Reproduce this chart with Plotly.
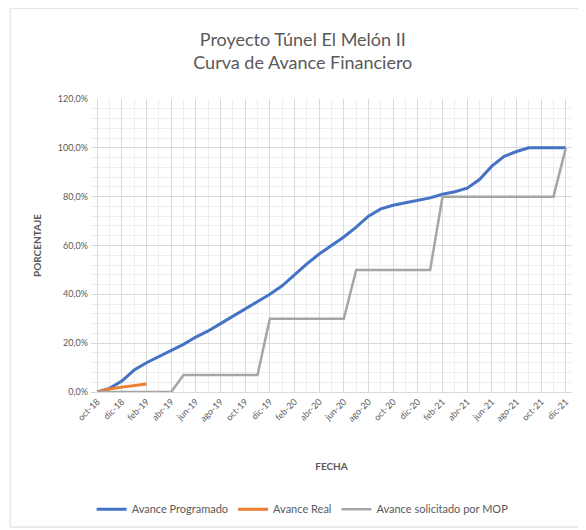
import plotly.graph_objects as go

months = ["oct-18","nov-18","dic-18","ene-19","feb-19","mar-19","abr-19","may-19","jun-19","jul-19",
          "ago-19","sept-19","oct-19","nov-19","dic-19","ene-20","feb-20","mar-20","abr-20","may-20",
          "jun-20","jul-20","ago-20","sept-20","oct-20","nov-20","dic-20","ene-21","feb-21","mar-21",
          "abr-21","may-21","jun-21","jul-21","ago-21","sept-21","oct-21","nov-21","dic-21"]

programado = [0.0, 1.5, 4.5, 9.0, 12.0, 14.5, 17.0, 19.5, 22.5, 25.0,
              28.0, 31.0, 34.0, 37.0, 40.0, 43.5, 48.0, 52.5, 56.5, 60.0,
              63.5, 67.5, 72.0, 75.0, 76.5, 77.5, 78.5, 79.5, 81.0, 82.0,
              83.5, 87.0, 92.5, 96.5, 98.5, 100.0, 100.0, 100.0, 100.0]

real = [0.0, 1.2, 2.0, 2.6, 3.3]

solicitado = [0, 0, 0, 0, 0, 0, 0, 7, 7, 7,
              7, 7, 7, 7, 30, 30, 30, 30, 30, 30,
              30, 50, 50, 50, 50, 50, 50, 50, 80, 80,
              80, 80, 80, 80, 80, 80, 80, 80, 100]

idx = list(range(len(months)))

fig = go.Figure()
fig.add_trace(go.Scatter(x=idx, y=[v / 100 for v in programado], mode="lines",
                         name="Avance Programado", line=dict(color="#4472C4", width=3)))
fig.add_trace(go.Scatter(x=idx[:len(real)], y=[v / 100 for v in real], mode="lines",
                         name="Avance Real", line=dict(color="#ED7D31", width=3)))
fig.add_trace(go.Scatter(x=idx, y=[v / 100 for v in solicitado], mode="lines",
                         name="Avance solicitado por MOP", line=dict(color="#A5A5A5", width=2.5)))

font_family = "Lato, 'Open Sans', sans-serif"
grey = "#595959"

fig.update_layout(
    width=578, height=522,
    margin=dict(l=83, r=14, t=91, b=138, autoexpand=False),
    paper_bgcolor="white", plot_bgcolor="white",
    separators=",.",
    font=dict(family=font_family, color=grey, size=9),
    title=dict(text="Proyecto Túnel El Melón II<br>Curva de Avance Financiero",
               x=0.51, xanchor="center", y=0.928, yanchor="middle",
               font=dict(size=18, color=grey, family=font_family)),
    showlegend=True,
    legend=dict(orientation="h", x=0.44, xanchor="center", y=-0.40, yanchor="middle",
                font=dict(size=11, color=grey), itemwidth=30, tracegroupgap=0),
    xaxis=dict(
        range=[-0.5, 38.5], tickvals=idx[::2], ticktext=months[::2], tickangle=-45,
        showgrid=True, gridcolor="#d9d9d9", gridwidth=1,
        minor=dict(dtick=1, tick0=0, showgrid=True, gridcolor="#eeeeee", gridwidth=1),
        showline=True, linecolor="#d9d9d9", zeroline=False, automargin=False,
        tickfont=dict(size=9, color=grey),
        title=dict(text="<b>FECHA</b>", font=dict(size=10, color=grey), standoff=40),
    ),
    yaxis=dict(
        range=[0, 1.2], dtick=0.2, tick0=0, tickformat=".1%",
        showgrid=True, gridcolor="#d9d9d9", gridwidth=1,
        minor=dict(dtick=0.04, tick0=0, showgrid=True, gridcolor="#eeeeee", gridwidth=1),
        zeroline=False, showline=False, automargin=False,
        tickfont=dict(size=9, color=grey), ticklabelstandoff=2,
        title=dict(text="<b>PORCENTAJE</b>", font=dict(size=10, color=grey), standoff=14),
    ),
    shapes=[dict(type="rect", xref="paper", yref="paper",
                 x0=-0.168, x1=1.0166, y0=-0.461, y1=1.31,
                 line=dict(color="#d9d9d9", width=1), fillcolor="rgba(0,0,0,0)", layer="below")],
)

fig.write_html("out.html")
